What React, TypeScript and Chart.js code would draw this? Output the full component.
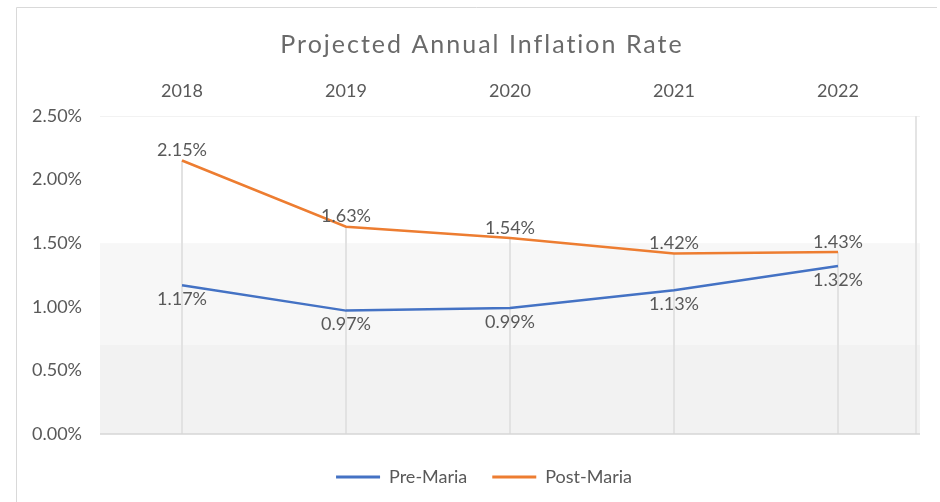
import { useEffect, useRef } from 'react';
import { Chart, registerables } from 'chart.js';

Chart.register(...registerables);

const titleText = 'Projected Annual Inflation Rate';
const years = ['2018', '2019', '2020', '2021', '2022'];
const preMaria = [1.17, 0.97, 0.99, 1.13, 1.32];
const postMaria = [2.15, 1.63, 1.54, 1.42, 1.43];
const yMin = 0;
const yMax = 2.5;
const yStep = 0.5;

const FONT = 'Lato, "Open Sans", sans-serif';
const TEXT = '#595959';

const decorPlugin = {
  id: 'decor',
  afterInit(chart: any) {
    const lg = chart.legend;
    if (lg && !lg.__patched) {
      const origFit = lg.fit.bind(lg);
      lg.fit = function () {
        origFit();
        this.height = 68;
      };
      lg.__patched = true;
    }
  },
  afterLayout(chart: any) {
    const lg = chart.legend;
    if (lg) {
      lg.left += 24;
      lg.right += 24;
      lg.top += 9;
      lg.bottom += 9;
    }
  },
  beforeDraw(chart: any) {
    const { ctx, chartArea, scales } = chart;
    const y = scales.y;
    ctx.save();
    ctx.strokeStyle = '#d9d9d9';
    ctx.lineWidth = 1;
    ctx.beginPath();
    ctx.moveTo(16.5, 502);
    ctx.lineTo(16.5, 7.5);
    ctx.lineTo(937, 7.5);
    ctx.stroke();
    const yTop = chartArea.top;
    const y15 = y.getPixelForValue(1.5);
    const y07 = y.getPixelForValue(0.7);
    const y0 = y.getPixelForValue(0);
    ctx.fillStyle = '#f7f7f7';
    ctx.fillRect(chartArea.left, y15, chartArea.right - chartArea.left, y07 - y15);
    ctx.fillStyle = '#f2f2f2';
    ctx.fillRect(chartArea.left, y07, chartArea.right - chartArea.left, y0 - y07);
    ctx.strokeStyle = '#f2f2f2';
    ctx.beginPath();
    ctx.moveTo(chartArea.left, yTop + 0.5);
    ctx.lineTo(chartArea.right, yTop + 0.5);
    ctx.stroke();
    ctx.restore();
  },
  beforeDatasetsDraw(chart: any) {
    const { ctx, chartArea, scales } = chart;
    const x = scales.x;
    const y = scales.y;
    ctx.save();
    ctx.strokeStyle = '#e2e2e2';
    ctx.lineWidth = 2;
    years.forEach((_, i) => {
      const top = Math.max(preMaria[i], postMaria[i]);
      const px = x.getPixelForValue(i);
      ctx.beginPath();
      ctx.moveTo(px, y.getPixelForValue(top));
      ctx.lineTo(px, y.getPixelForValue(0));
      ctx.stroke();
    });
    ctx.strokeStyle = '#e4e4e4';
    ctx.beginPath();
    ctx.moveTo(chartArea.right - 4, chartArea.top);
    ctx.lineTo(chartArea.right - 4, chartArea.bottom);
    ctx.stroke();
    ctx.strokeStyle = '#d6d6d6';
    ctx.lineWidth = 1.5;
    ctx.beginPath();
    ctx.moveTo(chartArea.left, y.getPixelForValue(0));
    ctx.lineTo(chartArea.right, y.getPixelForValue(0));
    ctx.stroke();
    ctx.restore();
  },
  afterDatasetsDraw(chart: any) {
    const { ctx } = chart;
    ctx.save();
    ctx.font = `18px ${FONT}`;
    ctx.fillStyle = TEXT;
    ctx.textAlign = 'center';
    ctx.textBaseline = 'middle';
    chart.data.datasets.forEach((ds: any, di: number) => {
      const meta = chart.getDatasetMeta(di);
      meta.data.forEach((pt: any, i: number) => {
        const v = ds.data[i] as number;
        const off = di === 0 ? 14 : -10;
        ctx.fillText(v.toFixed(2) + '%', pt.x, pt.y + off);
      });
    });
    ctx.restore();
  },
  afterDraw(chart: any) {
    const { ctx } = chart;
    ctx.save();
    ctx.font = `400 25px ${FONT}`;
    (ctx as any).letterSpacing = '2px';
    ctx.fillStyle = '#6a6a6a';
    ctx.textAlign = 'center';
    ctx.textBaseline = 'alphabetic';
    ctx.fillText(titleText, 482, 53);
    ctx.restore();
  },
};

export default function App() {
  const ref = useRef<HTMLCanvasElement | null>(null);

  useEffect(() => {
    document.body.style.margin = '0';
    if (!ref.current) return;
    const chart = new Chart(ref.current, {
      type: 'line',
      data: {
        labels: years,
        datasets: [
          {
            label: 'Pre-Maria',
            data: preMaria,
            borderColor: '#4472C4',
            backgroundColor: '#4472C4',
            borderWidth: 2.5,
            pointRadius: 0,
            tension: 0,
          },
          {
            label: 'Post-Maria',
            data: postMaria,
            borderColor: '#ED7D31',
            backgroundColor: '#ED7D31',
            borderWidth: 2.5,
            pointRadius: 0,
            tension: 0,
          },
        ],
      },
      options: {
        responsive: false,
        animation: false,
        layout: { padding: { top: 60, right: 20, bottom: 0, left: 0 } },
        plugins: {
          title: { display: false },
          tooltip: { enabled: false },
          legend: {
            display: true,
            position: 'bottom',
            labels: {
              boxWidth: 44,
              boxHeight: 3,
              padding: 25,
              color: TEXT,
              font: { family: FONT, size: 18 },
              generateLabels(c: any) {
                const items = Chart.defaults.plugins.legend.labels.generateLabels(c);
                items.forEach((it: any) => {
                  it.lineWidth = 0;
                });
                return items;
              },
            },
          },
        },
        scales: {
          x: {
            type: 'category',
            position: 'top',
            offset: true,
            grid: { display: false },
            border: { display: false },
            ticks: { color: TEXT, font: { family: FONT, size: 18 }, padding: 6 },
            afterFit(scale: any) {
              scale.height = 56;
            },
          },
          y: {
            min: yMin,
            max: yMax,
            grid: { display: false },
            border: { display: false },
            ticks: {
              stepSize: yStep,
              color: TEXT,
              font: { family: FONT, size: 18 },
              padding: 10,
              callback: (v: any) => Number(v).toFixed(2) + '%',
            },
            afterFit(scale: any) {
              scale.width = 100;
            },
          },
        },
      },
      plugins: [decorPlugin],
    });
    return () => chart.destroy();
  }, []);

  return (
    <div style={{ position: 'absolute', left: 0, top: 0, width: 940, height: 502, background: '#fff' }}>
      <canvas ref={ref} width={940} height={502} />
    </div>
  );
}
